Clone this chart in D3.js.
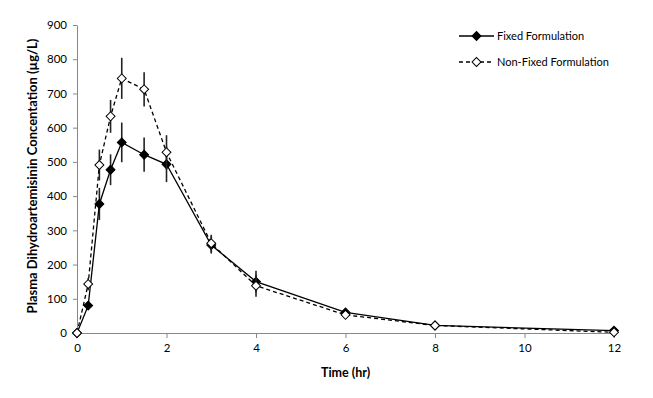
<!DOCTYPE html>
<html lang="en">
<head>
<meta charset="UTF-8">
<title>Plasma DHA concentration</title>
<script src="https://d3js.org/d3.v7.min.js"></script>
<style>
  body { margin: 0; background: white; font-family: Lato, "Open Sans", sans-serif; }
  .axis text { font-size: 11.5px; fill: #000; font-family: Lato, "Open Sans", sans-serif; }
  .axis path, .axis line { stroke: #888; }
</style>
</head>
<body>
<div id="chart"></div>
<script>
// time points (hr)
var times = [0, 0.25, 0.5, 0.75, 1, 1.5, 2, 3, 4, 6, 8, 12];
// Fixed formulation mean and error
var fixedMean = [0, 80, 377, 477, 557, 521, 493, 257, 150, 60, 22, 7];
var fixedErr  = [0, 12, 47, 45, 58, 50, 52, 25, 32, 8, 4, 3];
// Non-fixed formulation mean and error
var nonFixedMean = [0, 143, 491, 633, 744, 712, 528, 262, 138, 53, 22, 2];
var nonFixedErr  = [0, 18, 45, 48, 60, 50, 50, 25, 32, 8, 4, 2];
var xTicks = [0, 2, 4, 6, 8, 10, 12];
var yTicks = [0, 100, 200, 300, 400, 500, 600, 700, 800, 900];

var W = 653, H = 398;
var margin = { left: 77, top: 25, right: 39, bottom: 65 };
var w = W - margin.left - margin.right, h = H - margin.top - margin.bottom;

var svg = d3.select("#chart").append("svg").attr("width", W).attr("height", H);
var g = svg.append("g").attr("transform", "translate(" + margin.left + "," + margin.top + ")");

var x = d3.scaleLinear().domain([0, 12]).range([0, w]);
var y = d3.scaleLinear().domain([0, 900]).range([h, 0]);

g.append("g").attr("class", "axis").attr("transform", "translate(0," + h + ")")
  .call(d3.axisBottom(x).tickValues(xTicks).tickSize(5).tickSizeOuter(0).tickPadding(6));
g.append("g").attr("class", "axis")
  .call(d3.axisLeft(y).tickValues(yTicks).tickSize(4).tickSizeOuter(0).tickPadding(6));

var series = [
  { name: "Fixed Formulation", mean: fixedMean, err: fixedErr, fill: "#000", dash: null },
  { name: "Non-Fixed Formulation", mean: nonFixedMean, err: nonFixedErr, fill: "#fff", dash: "4,3" }
];

var diamondSq = d3.symbol().type(d3.symbolSquare).size(40);

series.forEach(function (s) {
  var pts = times.map(function (t, i) { return { t: t, v: s.mean[i], e: s.err[i] }; });
  // error bars
  g.selectAll(null).data(pts.filter(function (d) { return d.e > 0; })).enter().append("line")
    .attr("x1", function (d) { return x(d.t); }).attr("x2", function (d) { return x(d.t); })
    .attr("y1", function (d) { return y(d.v + d.e); }).attr("y2", function (d) { return y(d.v - d.e); })
    .attr("stroke", "#222").attr("stroke-width", 1.6);
  // line
  g.append("path").datum(pts)
    .attr("d", d3.line().x(function (d) { return x(d.t); }).y(function (d) { return y(d.v); }))
    .attr("fill", "none").attr("stroke", "#000").attr("stroke-width", 1.3)
    .attr("stroke-dasharray", s.dash);
  // markers
  g.selectAll(null).data(pts).enter().append("path")
    .attr("d", diamondSq)
    .attr("transform", function (d) { return "translate(" + x(d.t) + "," + y(d.v) + ") rotate(45)"; })
    .attr("fill", s.fill).attr("stroke", "#000").attr("stroke-width", 1);
});

// legend
var leg = svg.append("g").attr("transform", "translate(459,36)");
series.forEach(function (s, i) {
  var r = leg.append("g").attr("transform", "translate(0," + (i * 26) + ")");
  r.append("line").attr("x1", 0).attr("x2", 35).attr("y1", 0).attr("y2", 0)
    .attr("stroke", "#000").attr("stroke-width", 1.3).attr("stroke-dasharray", s.dash);
  r.append("path").attr("d", diamondSq).attr("transform", "translate(17.5,0) rotate(45)")
    .attr("fill", s.fill).attr("stroke", "#000");
  r.append("text").attr("x", 38).attr("y", 4).attr("font-size", 11).text(s.name);
});

// axis titles
svg.append("text").attr("x", margin.left + w / 2).attr("y", 377)
  .attr("text-anchor", "middle").attr("font-size", 12.5).attr("font-weight", "bold").text("Time (hr)");
svg.append("text").attr("transform", "translate(37," + 176 + ") rotate(-90)")
  .attr("text-anchor", "middle").attr("font-size", 13).attr("font-weight", "bold")
  .text("Plasma Dihydroartemisinin Concentation (µg/L)");
</script>
</body>
</html>
